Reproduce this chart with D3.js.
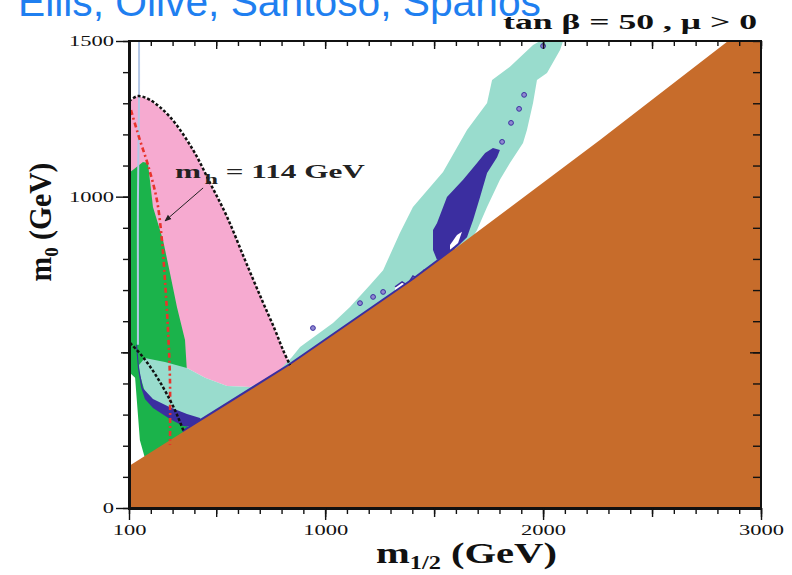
<!DOCTYPE html>
<html><head><meta charset="utf-8">
<script src="https://cdn.jsdelivr.net/npm/d3@7"></script>
<style>body{margin:0;background:#fff}</style>
</head><body><svg id="c" width="792" height="575"></svg>
<script>
// ---------- data (m1/2, m0) in GeV ----------
const xDomain = [100, 3000];
const yDomain = [0, 1500];
const xTickLabels = [100, 1000, 2000, 3000];
const yTickLabels = [0, 1000, 1500];
const titleAuthors = "Ellis, Olive, Santoso, Spanos";
const titleParams = "tan \u03b2 = 50 ,  \u03bc > 0";
const annotationText = ["m", "h", " = 114 GeV"];
const annotationAnchor = [311, 1060];
const arrowFrom = [440, 1028];
const arrowTo = [265, 922];

// charged LSP (brown)
const chargedLSP = [[100,135],[348,244],[839,459],[1403,732],[2261,1182],[2849,1500],[3000,1500],[3000,0],[100,0]];
// brown boundary (for blue strip)
const stauEdge = [[348,244],[839,459],[1403,732],[1596,833]];
// g-2 favoured (pink): boundary curve then lower edge
const g2Curve = [[100,1307],[141,1323],[196,1311],[288,1256],[394,1150],[472,1044],[550,935],[632,797],[710,668],[770,572],[807,507],[839,459]];
const g2Lower = [[761,421],[655,389],[550,392],[449,418],[366,450],[100,450]];
// b -> s gamma excluded (green)
const bsgRegion = [[100,1076],[164,1111],[187,1108],[210,967],[256,861],[288,755],[320,646],[357,540],[366,437],[371,218],[242,122],[173,161],[150,218],[128,418],[100,437]];
// relic density band (teal)
const relicWide = [[146,459],[173,482],[265,469],[366,450],[449,418],[550,392],[655,389],[761,421],[848,485],[885,517],[1036,594],[1114,646],[1206,716],[1266,764],[1343,883],[1403,967],[1541,1079],[1651,1214],[1743,1301],[1766,1375],[1848,1417],[1954,1487],[1986,1500],[2092,1500],[2078,1471],[2018,1397],[1972,1375],[1954,1301],[1926,1214],[1908,1172],[1848,1108],[1802,1054],[1743,967],[1697,893],[1651,838],[1596,809],[1403,700],[839,430],[500,280],[449,262],[380,273],[288,308],[210,337],[173,373],[150,427]];
// WMAP relic density (dark blue)
const relicHook = [[137,524],[146,450],[164,385],[210,350],[288,324],[366,302],[426,289],[449,257],[348,263],[288,286],[210,321],[173,350],[155,389],[141,450],[132,524]];
const relicFunnel = [[1495,893],[1513,915],[1559,999],[1633,1054],[1697,1108],[1734,1140],[1770,1156],[1802,1150],[1789,1127],[1743,1076],[1711,999],[1679,925],[1651,870],[1605,838],[1541,806],[1513,797],[1495,829]];
const funnelHole = [[1573,845],[1605,877],[1628,887],[1610,851],[1573,829]];
const relicDots = [[1913,1327],[1890,1282],[1853,1237],[1812,1176],[2000,1484],[1266,694],[1220,678],[1160,658],[944,578]];
const relicZigzag = [[1321,710],[1353,726],[1376,716],[1403,745],[1426,736],[1454,764],[1477,758],[1504,787]];
// thin relic strip at small m1/2
const relicStrip = [[146,1500],[146,1323],[141,989],[141,668],[141,524]];
// m_h = 114 GeV (red dash-dot)
const higgsLine = [[109,1278],[150,1182],[187,1102],[228,989],[251,861],[265,732],[279,572],[288,411],[288,202]];
// lower black dotted contour
const lowerContour = [[105,530],[164,485],[228,421],[288,347],[325,292],[352,244]];

// ---------- colours ----------
const C = {pink:"#f6aad0", green:"#1bb34b", teal:"#99dccd", blue:"#3b2ea0", brown:"#c76c2b", red:"#e8342c", light:"#b3c7e6"};

const svg = d3.select("#c");
svg.append("rect").attr("width",792).attr("height",575).attr("fill","#fff");
const x = d3.scaleLinear().domain(xDomain).range([129,761]);
const y = d3.scaleLinear().domain(yDomain).range([508,41]);
const poly = d3.line().x(d=>x(d[0])).y(d=>y(d[1])).curve(d3.curveLinearClosed);
const smooth = d3.line().x(d=>x(d[0])).y(d=>y(d[1])).curve(d3.curveCatmullRom);
const lin = d3.line().x(d=>x(d[0])).y(d=>y(d[1]));

svg.append("defs").html('<clipPath id="clip"><rect x="129" y="41" width="632" height="467"/></clipPath>'+
 '<marker id="ah" viewBox="0 0 10 10" refX="9" refY="5" markerWidth="7" markerHeight="7" orient="auto"><path d="M0,1L10,5L0,9z" fill="#222"/></marker>');
const plot = svg.append("g").attr("clip-path","url(#clip)");
const area = (d,fill)=>plot.append("path").attr("d",poly(d)).attr("fill",fill);

area(g2Curve.concat(g2Lower), C.pink);
area(bsgRegion, C.green);
plot.append("path").attr("d",smooth(relicStrip)).attr("fill","none").attr("stroke",C.light).attr("stroke-width",2);
area(relicWide, C.teal);
area(relicHook, C.blue);
area(relicFunnel, C.blue);
area(funnelHole, "#fff");
plot.append("path").attr("d",lin(relicZigzag.concat([[1504,760],[1321,680]]))+"Z").attr("fill","#fff");
plot.append("path").attr("d",lin(relicZigzag)).attr("fill","none").attr("stroke",C.blue).attr("stroke-width",1.5);
plot.selectAll(".dot").data(relicDots).join("circle").attr("cx",d=>x(d[0])).attr("cy",d=>y(d[1])).attr("r",2.4)
  .attr("fill","#8f88d0").attr("stroke",C.blue).attr("stroke-width",1);
plot.append("path").attr("d",lin(stauEdge)).attr("fill","none").attr("stroke",C.blue).attr("stroke-width",4);
area(chargedLSP, C.brown);
plot.append("path").attr("d",smooth(higgsLine)).attr("fill","none").attr("stroke",C.red).attr("stroke-width",2.6).attr("stroke-dasharray","5,3,2,3");
plot.append("path").attr("d",smooth(g2Curve)).attr("fill","none").attr("stroke","#111").attr("stroke-width",2.5).attr("stroke-dasharray","3,2");
plot.append("path").attr("d",smooth(lowerContour)).attr("fill","none").attr("stroke","#111").attr("stroke-width",2.5).attr("stroke-dasharray","3,2");

// annotation
svg.append("line").attr("x1",x(arrowFrom[0])).attr("y1",y(arrowFrom[1])).attr("x2",x(arrowTo[0])).attr("y2",y(arrowTo[1]))
  .attr("stroke","#222").attr("stroke-width",1).attr("marker-end","url(#ah)");

const SERIF = "'Liberation Serif','Times New Roman',serif";
function fit(tx, ty, rot, anchor, target, sy, build){
  const g = svg.append("g").attr("transform",`translate(${tx},${ty})`+(rot?` rotate(${rot})`:""));
  const t = g.append("text").attr("text-anchor",anchor);
  build(t);
  const w = t.node().getBBox().width;
  t.attr("transform",`scale(${target/w},${sy})`);
  return t;
}
fit(x(annotationAnchor[0]), y(annotationAnchor[1]), 0, "start", 190, 1.05, t=>{
  t.attr("font-family",SERIF).attr("font-weight","bold").attr("font-size",18).attr("fill","#222");
  t.append("tspan").text(annotationText[0]);
  t.append("tspan").attr("font-size",14).attr("dx",2).attr("dy",6).text(annotationText[1]);
  t.append("tspan").attr("dy",-6).text(annotationText[2]);
});

// frame
svg.append("rect").attr("x",129).attr("y",41).attr("width",632).attr("height",467).attr("fill","none").attr("stroke","#111").attr("stroke-width",2);
svg.append("line").attr("x1",129.5).attr("x2",129.5).attr("y1",40).attr("y2",509.5).attr("stroke","#111").attr("stroke-width",3);
svg.append("line").attr("x1",128).attr("x2",762).attr("y1",508.5).attr("y2",508.5).attr("stroke","#111").attr("stroke-width",3);

// axes ticks
const xMinor = d3.range(100, 3001, 100), xMid = d3.range(500, 3001, 500);
const yMinor = d3.range(0, 1501, 100), yMid = [500];
function ax(axis, tr){ const g = svg.append("g").attr("transform",tr).call(axis); g.select(".domain").remove(); g.selectAll("line").attr("stroke","#111").attr("stroke-width",1.4); return g; }
ax(d3.axisBottom(x).tickValues(xMinor).tickSize(6).tickFormat(""), "translate(0,508)");
ax(d3.axisBottom(x).tickValues(xMid).tickSize(9).tickFormat(""), "translate(0,508)");
const xb = ax(d3.axisBottom(x).tickValues(xTickLabels).tickSize(12).tickPadding(4).tickFormat(d3.format("d")), "translate(0,508)");
ax(d3.axisTop(x).tickValues(xMinor).tickSize(-5).tickFormat(""), "translate(0,41)");
ax(d3.axisTop(x).tickValues(xMid).tickSize(-8).tickFormat(""), "translate(0,41)");
ax(d3.axisLeft(y).tickValues(yMinor).tickSize(6).tickFormat(""), "translate(129,0)");
ax(d3.axisLeft(y).tickValues(yMid).tickSize(8).tickFormat(""), "translate(129,0)");
const yl = ax(d3.axisLeft(y).tickValues(yTickLabels).tickSize(13).tickPadding(2).tickFormat(d3.format("d")), "translate(129,0)");
ax(d3.axisRight(y).tickValues(yMinor).tickSize(-8).tickFormat(""), "translate(761,0)");
ax(d3.axisRight(y).tickValues(yMid).tickSize(-11).tickFormat(""), "translate(761,0)");
const SX = 1.5;
xb.selectAll("text").attr("font-family",SERIF).attr("font-size",15).attr("fill","#111").attr("transform",`scale(${SX},1)`);
yl.selectAll("text").attr("font-family",SERIF).attr("font-size",15).attr("fill","#111")
  .attr("x",-15/SX).attr("transform",`scale(${SX},1)`);

// axis titles
fit(376, 563, 0, "start", 181, 1.0, t=>{
  t.attr("font-family",SERIF).attr("font-weight","bold").attr("font-size",30).attr("fill","#111");
  t.append("tspan").text("m");
  t.append("tspan").attr("font-size",18).attr("dy",6).text("1/2");
  t.append("tspan").attr("dy",-6).text(" (GeV)");
});
fit(51, 222, -90, "middle", 119, 1.15, t=>{
  t.attr("font-family",SERIF).attr("font-weight","bold").attr("font-size",27).attr("fill","#111");
  t.append("tspan").text("m");
  t.append("tspan").attr("font-size",17).attr("dy",6).text("0");
  t.append("tspan").attr("dy",-6).text(" (GeV)");
});
// titles
fit(757, 29, 0, "end", 254, 1.0, t=>{
  t.attr("font-family",SERIF).attr("font-weight","bold").attr("font-size",21).attr("fill","#111").text(titleParams);
});
fit(18, 16, 0, "start", 523, 1.0, t=>{
  t.attr("font-family","'Liberation Sans',Arial,sans-serif").attr("font-size",40).attr("fill","#1f7ff0").text(titleAuthors);
});
</script></body></html>
